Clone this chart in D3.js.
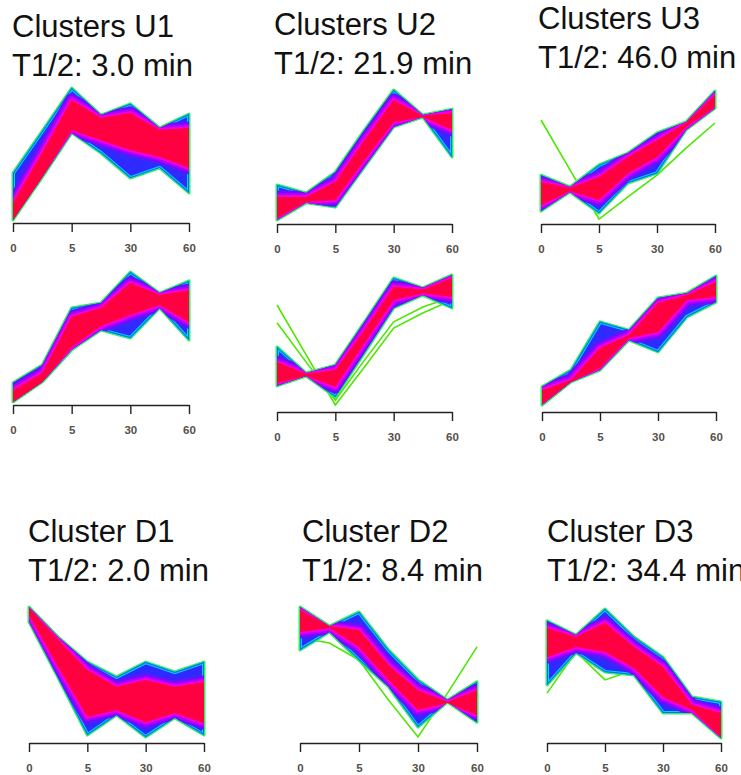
<!DOCTYPE html>
<html>
<head>
<meta charset="utf-8">
<script src="https://cdn.jsdelivr.net/npm/d3@7"></script>
<style>
  body { margin: 0; background: #fff; }
  text { font-family: "Liberation Sans", Arial, sans-serif; }
</style>
</head>
<body>
<div id="chart"></div>
<script>
// time points (7 samples), only 4 of them labelled
const timeIdx = [1, 2, 3, 4, 5, 6, 7]
const tickPos = [1, 3, 5, 7]
const tickLabels = ["0", "5", "30", "60"]

// standardised expression: outer envelope (all members) and core (high membership)
const u1OuterHi = [-0.58, 0.70, 2.00, 1.18, 1.52, 0.79, 1.21]
const u1OuterLo = [-2.00, -0.70, 0.64, 0.03, -0.73, -0.42, -1.18]
const u1CoreHi = [-1.48, 0.06, 1.64, 1.09, 1.24, 0.73, 0.79]
const u1CoreLo = [-2.00, -0.70, 0.73, 0.42, 0.12, -0.09, -0.42]

const u2OuterHi = [-0.91, -1.15, -0.52, 0.76, 1.97, 1.21, 1.39]
const u2OuterLo = [-1.97, -1.45, -1.58, -0.36, 0.85, 1.15, -0.06]
const u2CoreHi = [-1.27, -1.27, -0.82, 0.45, 1.67, 1.18, 1.27]
const u2CoreLo = [-1.91, -1.42, -1.36, -0.15, 1.00, 1.15, 0.76]

const u3OuterHi = [-0.61, -0.97, -0.30, 0.06, 0.67, 1.00, 1.94]
const u3OuterLo = [-1.70, -1.12, -1.76, -0.85, -0.55, 0.76, 1.42]
const u3CoreHi = [-0.82, -1.00, -0.67, -0.06, 0.45, 0.97, 1.82]
const u3CoreLo = [-1.52, -1.09, -1.36, -0.55, -0.06, 0.85, 1.45]
const u3Outlier = [1.06, -0.45, -1.94, -1.27, -0.61, 0.21, 0.97]

const u1bOuterHi = [-1.39, -0.85, 0.88, 1.03, 1.97, 1.33, 1.70]
const u1bOuterLo = [-1.97, -1.36, -0.39, 0.21, -0.03, 0.88, -0.09]
const u1bCoreHi = [-1.61, -1.09, 0.61, 0.88, 1.64, 1.27, 1.42]
const u1bCoreLo = [-1.97, -1.36, -0.30, 0.33, 0.67, 0.97, 0.45]

const u2bOuterHi = [-0.21, -1.00, -0.76, 0.55, 1.88, 1.58, 1.97]
const u2bOuterLo = [-1.39, -1.09, -1.73, -0.39, 0.97, 1.36, 0.97]
const u2bCoreHi = [-0.67, -1.03, -0.91, 0.30, 1.61, 1.52, 1.88]
const u2bCoreLo = [-1.30, -1.09, -1.42, -0.09, 1.21, 1.42, 1.30]
const u2bOutlierA = [1.06, -0.45, -1.97, -0.82, 0.36, 0.82, 1.21]
const u2bOutlierB = [0.52, -0.67, -1.82, -0.61, 0.55, 1.00, 1.30]

const u3bOuterHi = [-1.42, -0.91, 0.55, 0.30, 1.27, 1.42, 1.94]
const u3bOuterLo = [-1.97, -1.27, -0.91, 0.00, -0.36, 0.70, 1.15]
const u3bCoreHi = [-1.52, -1.21, -0.24, 0.15, 1.12, 1.36, 1.76]
const u3bCoreLo = [-1.94, -1.27, -0.85, 0.06, 0.24, 1.21, 1.30]

const d1OuterHi = [1.97, 1.06, 0.30, -0.15, 0.30, 0.00, 0.30]
const d1OuterLo = [1.52, -0.18, -1.91, -1.30, -1.97, -1.39, -1.91]
const d1CoreHi = [1.94, 0.97, 0.06, -0.45, -0.24, -0.45, -0.30]
const d1CoreLo = [1.73, 0.15, -1.36, -1.15, -1.52, -1.24, -1.55]

const d2OuterHi = [1.97, 1.39, 1.82, 0.67, -0.24, -0.85, -0.30]
const d2OuterLo = [0.67, 1.21, 0.36, -0.45, -1.67, -0.91, -1.52]
const d2CoreHi = [1.88, 1.39, 1.27, 0.21, -0.55, -0.91, -0.55]
const d2CoreLo = [1.21, 1.33, 0.76, -0.24, -1.15, -0.94, -1.30]
const d2Outlier = [1.03, 0.88, 0.36, -0.85, -1.97, -0.64, 0.76]

const d3OuterHi = [1.58, 1.15, 1.94, 1.09, 0.48, -0.73, -0.88]
const d3OuterLo = [-0.36, 0.61, 0.03, -0.06, -1.21, -1.21, -1.97]
const d3CoreHi = [1.36, 1.09, 1.52, 0.79, 0.18, -0.97, -1.21]
const d3CoreLo = [0.48, 0.79, 0.64, 0.15, -0.73, -1.12, -1.94]
const d3Outlier = [-0.61, 0.64, -0.21, 0.09, -0.82, -1.12, -1.33]

const width = 741
const height = 775
const pxPerUnit = 33

const panels = [
  {hi: u1OuterHi, lo: u1OuterLo, cHi: u1CoreHi, cLo: u1CoreLo, extra: [], x0: 13, x1: 189, cy: 154, axisY: 223, t1: "Clusters U1", t2: "T1/2: 3.0 min", tx: 12, ty: 37},
  {hi: u2OuterHi, lo: u2OuterLo, cHi: u2CoreHi, cLo: u2CoreLo, extra: [], x0: 277, x1: 452, cy: 155, axisY: 224, t1: "Clusters U2", t2: "T1/2: 21.9 min", tx: 274, ty: 35},
  {hi: u3OuterHi, lo: u3OuterLo, cHi: u3CoreHi, cLo: u3CoreLo, extra: [u3Outlier], x0: 541, x1: 715, cy: 155, axisY: 224, t1: "Clusters U3", t2: "T1/2: 46.0 min", tx: 538, ty: 29},
  {hi: u1bOuterHi, lo: u1bOuterLo, cHi: u1bCoreHi, cLo: u1bCoreLo, extra: [], x0: 13, x1: 189, cy: 337, axisY: 405},
  {hi: u2bOuterHi, lo: u2bOuterLo, cHi: u2bCoreHi, cLo: u2bCoreLo, extra: [u2bOutlierA, u2bOutlierB], x0: 277, x1: 452, cy: 340, axisY: 412},
  {hi: u3bOuterHi, lo: u3bOuterLo, cHi: u3bCoreHi, cLo: u3bCoreLo, extra: [], x0: 542, x1: 716, cy: 340, axisY: 412},
  {hi: d1OuterHi, lo: d1OuterLo, cHi: d1CoreHi, cLo: d1CoreLo, extra: [], x0: 29, x1: 204, cy: 672, axisY: 743, t1: "Cluster D1", t2: "T1/2: 2.0 min", tx: 28, ty: 542},
  {hi: d2OuterHi, lo: d2OuterLo, cHi: d2CoreHi, cLo: d2CoreLo, extra: [d2Outlier], x0: 300, x1: 477, cy: 672, axisY: 743, t1: "Cluster D2", t2: "T1/2: 8.4 min", tx: 302, ty: 542},
  {hi: d3OuterHi, lo: d3OuterLo, cHi: d3CoreHi, cLo: d3CoreLo, extra: [d3Outlier], x0: 547, x1: 721, cy: 673, axisY: 743, t1: "Cluster D3", t2: "T1/2: 34.4 min", tx: 547, ty: 542}
]

const svg = d3.select("#chart").append("svg")
    .attr("width", width)
    .attr("height", height)
    .style("display", "block")

const defs = svg.append("defs")

panels.forEach((p, pi) => {
  const x = d3.scaleLinear().domain([1, 7]).range([p.x0, p.x1])
  const y = d3.scaleLinear().domain([-2, 2]).range([p.cy + 2 * pxPerUnit, p.cy - 2 * pxPerUnit])

  const band = (hi, lo) => d3.area()
      .x((d, i) => x(timeIdx[i]))
      .y0((d, i) => y(lo[i]))
      .y1((d, i) => y(hi[i]))(timeIdx)
  const line = d3.line()
      .x((d, i) => x(timeIdx[i]))
      .y(d => y(d))

  const g = svg.append("g")

  // low-membership outliers sit underneath the bundle
  g.selectAll(".outlier").data(p.extra).join("path")
      .attr("class", "outlier")
      .attr("fill", "none")
      .attr("stroke", "#4be800")
      .attr("stroke-width", 1.6)
      .attr("d", line)

  const outer = band(p.hi, p.lo)
  const core = band(p.cHi, p.cLo)

  defs.append("clipPath").attr("id", "clip" + pi)
    .append("path").attr("d", outer)

  // membership fringe: green -> cyan -> blue -> purple -> magenta -> red
  g.append("path").attr("d", outer).attr("fill", "none")
      .attr("stroke", "#2cf060").attr("stroke-width", 3).attr("stroke-linejoin", "round")
  g.append("path").attr("d", outer).attr("fill", "#2f2aff")

  const cg = g.append("g").attr("clip-path", `url(#clip${pi})`)
  cg.append("path").attr("d", outer).attr("fill", "none")
      .attr("stroke", "#00d4f4").attr("stroke-width", 4).attr("stroke-linejoin", "round")
  cg.append("path").attr("d", outer).attr("fill", "none")
      .attr("stroke", "#0a6cff").attr("stroke-width", 2).attr("stroke-linejoin", "round")
  cg.append("path").attr("d", core).attr("fill", "none")
      .attr("stroke", "#6a10ff").attr("stroke-width", 13).attr("stroke-linejoin", "round")
  cg.append("path").attr("d", core).attr("fill", "none")
      .attr("stroke", "#b000ff").attr("stroke-width", 8).attr("stroke-linejoin", "round")
  cg.append("path").attr("d", core).attr("fill", "none")
      .attr("stroke", "#f400e0").attr("stroke-width", 4).attr("stroke-linejoin", "round")
  g.append("path").attr("d", core).attr("fill", "#ff0040")

  // x axis
  const axis = g.append("g")
      .attr("transform", `translate(0,${p.axisY})`)
      .call(d3.axisBottom(x).tickValues(tickPos)
        .tickFormat((d, i) => tickLabels[i])
        .tickSize(9).tickSizeOuter(0).tickPadding(12))
  axis.select(".domain").attr("stroke", "#222").attr("stroke-width", 1.4)
  axis.selectAll(".tick line").attr("stroke", "#222").attr("stroke-width", 1.4)
  axis.selectAll(".tick text")
      .attr("fill", "#55504a")
      .style("font-size", "11.5px")
      .style("font-weight", "600")
      .style("font-family", "'Liberation Sans', Arial, sans-serif")

  if (p.t1) {
    g.append("text").attr("x", p.tx).attr("y", p.ty)
        .attr("fill", "#111").style("font-size", "31px").text(p.t1)
    g.append("text").attr("x", p.tx).attr("y", p.ty + 39)
        .attr("fill", "#111").style("font-size", "31px").text(p.t2)
  }
})
</script>
</body>
</html>
